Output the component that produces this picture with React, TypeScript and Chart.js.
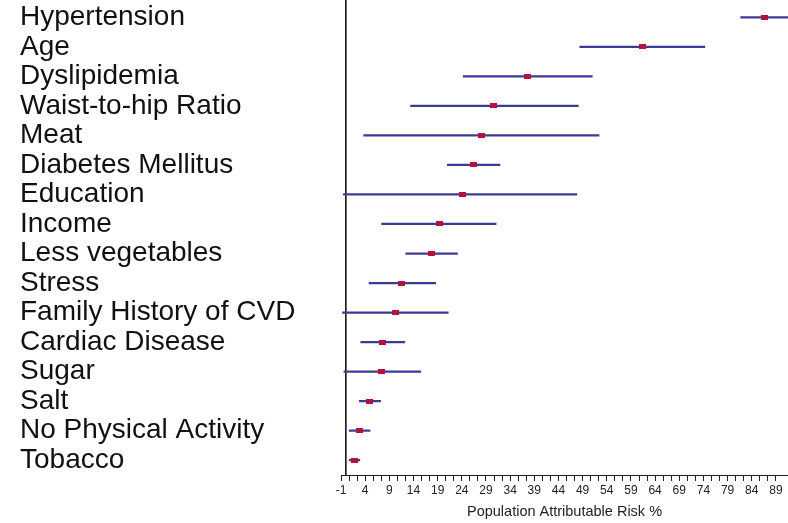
import React, { useEffect, useRef } from 'react';
import { Chart, registerables } from 'chart.js';

Chart.register(...registerables);

const categories = [
  'Hypertension',
  'Age',
  'Dyslipidemia',
  'Waist-to-hip Ratio',
  'Meat',
  'Diabetes Mellitus',
  'Education',
  'Income',
  'Less vegetables',
  'Stress',
  'Family History of CVD',
  'Cardiac Disease',
  'Sugar',
  'Salt',
  'No Physical Activity',
  'Tobacco',
];
const parValues = [86.7, 61.3, 37.6, 30.6, 28.1, 26.4, 24.1, 19.3, 17.7, 11.6, 10.3, 7.6, 7.4, 5.0, 2.8, 1.7];
const ciLower = [81.7, 48.4, 24.3, 13.4, 3.7, 21.0, -0.5, 7.4, 12.4, 4.8, -0.7, 3.1, -0.4, 2.8, 0.7, 0.7];
const ciUpper = [93.0, 74.3, 51.0, 48.1, 52.4, 31.9, 47.8, 31.1, 23.1, 18.6, 21.2, 12.2, 15.5, 7.2, 5.0, 2.9];
const tickLabels = [-1, 4, 9, 14, 19, 24, 29, 34, 39, 44, 49, 54, 59, 64, 69, 74, 79, 84, 89];
const axisTitle = 'Population Attributable Risk %';

const LINE_COLOR = '#3b3b93';
const POINT_COLOR = '#b3123c';

export default function App() {
  const ref = useRef<HTMLCanvasElement | null>(null);

  useEffect(() => {
    document.body.style.margin = '0';
    const canvas = ref.current;
    if (!canvas) return;

    const marker = document.createElement('canvas');
    marker.width = 7;
    marker.height = 5;
    const mctx = marker.getContext('2d');
    if (mctx) {
      mctx.fillStyle = POINT_COLOR;
      mctx.fillRect(0, 0, 7, 5);
    }

    const zeroLine = {
      id: 'zeroLine',
      beforeDatasetsDraw(chart: any) {
        const { ctx, chartArea } = chart;
        const x = chart.scales.x;
        const px = x.getPixelForValue(0);
        ctx.save();
        ctx.strokeStyle = '#151515';
        ctx.lineWidth = 1.6;
        ctx.beginPath();
        ctx.moveTo(px, 0);
        ctx.lineTo(px, chartArea.bottom);
        ctx.stroke();
        ctx.restore();
      },
    };

    const allTicks: number[] = [];
    tickLabels.forEach((t, i) => {
      allTicks.push(t);
      if (i < tickLabels.length - 1) {
        const step = (tickLabels[i + 1] - t) / 3;
        allTicks.push(t + step, t + 2 * step);
      }
    });

    const chart = new Chart(canvas, {
      type: 'bar',
      data: {
        labels: categories,
        datasets: [
          {
            type: 'bar',
            indexAxis: 'y',
            order: 2,
            data: ciLower.map((l, i) => [l, ciUpper[i]]) as any,
            backgroundColor: LINE_COLOR,
            barThickness: 1.6,
            xAxisID: 'x',
            yAxisID: 'y',
          } as any,
          {
            type: 'scatter',
            order: 1,
            data: parValues.map((v, i) => ({ x: v, y: categories[i] })) as any,
            pointStyle: marker,
            pointRadius: 4,
            backgroundColor: POINT_COLOR,
            borderColor: POINT_COLOR,
            xAxisID: 'x',
            yAxisID: 'y',
          } as any,
        ],
      },
      options: {
        animation: false,
        responsive: false,
        maintainAspectRatio: false,
        indexAxis: 'y',
        layout: { autoPadding: false, padding: { left: 20, right: 0, top: 2.5, bottom: 0 } },
        plugins: {
          legend: { display: false },
          tooltip: { enabled: false },
        },
        scales: {
          x: {
            type: 'linear',
            position: 'bottom',
            offset: false,
            min: -1,
            max: 91.5,
            afterBuildTicks: (scale: any) => {
              scale.ticks = allTicks.map((v) => ({ value: v }));
            },
            afterFit: (scale: any) => {
              scale.height = 48;
              scale.paddingLeft = 0;
              scale.paddingRight = 0;
            },
            grid: {
              display: true,
              offset: false,
              drawOnChartArea: false,
              drawTicks: true,
              tickLength: 6,
              color: '#222',
              lineWidth: 1,
            },
            border: { display: true, color: '#222', width: 1 },
            ticks: {
              autoSkip: false,
              maxRotation: 0,
              padding: 2,
              color: '#222',
              font: { family: 'Liberation Sans', size: 12 },
              callback: (v: any) => (tickLabels.includes(Math.round(Number(v) * 1000) / 1000) ? String(v) : ''),
            },
            title: {
              display: true,
              text: axisTitle,
              color: '#222',
              font: { family: 'Liberation Sans', size: 14.5 },
              padding: { top: 2, bottom: 2 },
            },
          },
          y: {
            type: 'category',
            position: 'left',
            offset: true,
            afterFit: (scale: any) => {
              scale.width = 321;
              scale.paddingTop = 0;
              scale.paddingBottom = 0;
            },
            grid: { display: false },
            border: { display: false },
            ticks: {
              autoSkip: false,
              crossAlign: 'far',
              color: '#111',
              font: { family: 'Liberation Sans', size: 28, lineHeight: 1 },
            },
          },
        },
      } as any,
      plugins: [zeroLine],
    });

    return () => {
      chart.destroy();
    };
  }, []);

  return (
    <div style={{ width: 788, height: 523, background: '#fff' }}>
      <canvas ref={ref} width={788} height={523} style={{ display: 'block' }} />
    </div>
  );
}
